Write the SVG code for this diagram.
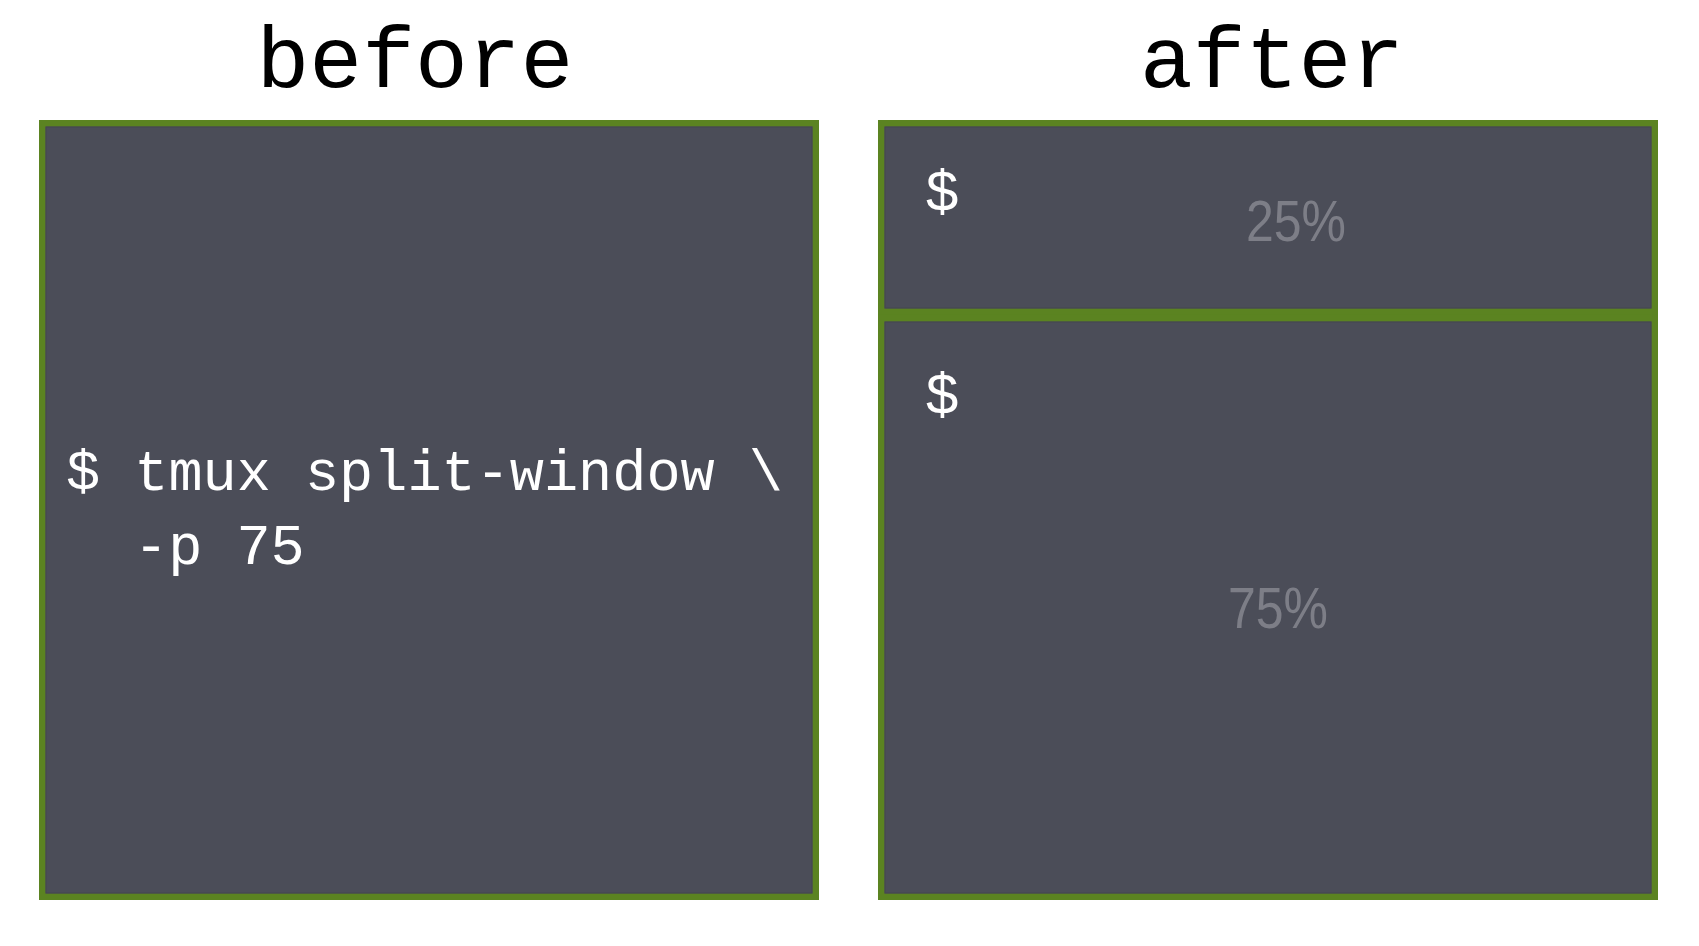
<svg xmlns="http://www.w3.org/2000/svg" width="1699" height="946" viewBox="0 0 1699 946">
<style>
.pane{fill:#4b4d58;stroke:#5b8321;stroke-width:6.6}
.inner{fill:none;stroke:#454650;stroke-width:1}
.title{font-family:"Liberation Mono",monospace;font-size:88px;fill:#000;text-anchor:middle}
.cmd{font-family:"Liberation Mono",monospace;font-size:56.9px;fill:#fff}
.prompt{font-family:"Liberation Sans",Arial,sans-serif;font-size:58px;fill:#fff}
.pct{font-family:"Liberation Sans",Arial,sans-serif;font-size:58px;fill:#7d7e87}
</style>
<rect width="1699" height="946" fill="#fff"/>
<g id="title-before"><text class="title" x="415" y="87">before</text></g>
<g id="title-after"><text class="title" x="1272" y="87">after</text></g>
<g id="before-window">
<rect class="pane" x="42.3" y="123.3" width="773.4" height="773.4"/>
<rect class="inner" x="46" y="127" width="766" height="766"/>
<text class="cmd" x="66" y="490">$ tmux split-window \</text>
<text class="cmd" x="134" y="564">-p 75</text>
</g>
<g id="after-top-pane">
<rect class="pane" x="881.3" y="123.3" width="773.4" height="188.4"/>
<rect class="inner" x="885" y="127" width="766" height="181"/>
<text class="prompt" x="926" y="211">$</text>
<text class="pct" x="1246" y="241" textLength="100" lengthAdjust="spacingAndGlyphs">25%</text>
</g>
<g id="after-bottom-pane">
<rect class="pane" x="881.3" y="318.3" width="773.4" height="578.4"/>
<rect class="inner" x="885" y="322" width="766" height="571"/>
<text class="prompt" x="926" y="414">$</text>
<text class="pct" x="1228" y="628" textLength="100" lengthAdjust="spacingAndGlyphs">75%</text>
</g>
<g id="connectors"></g>
</svg>
